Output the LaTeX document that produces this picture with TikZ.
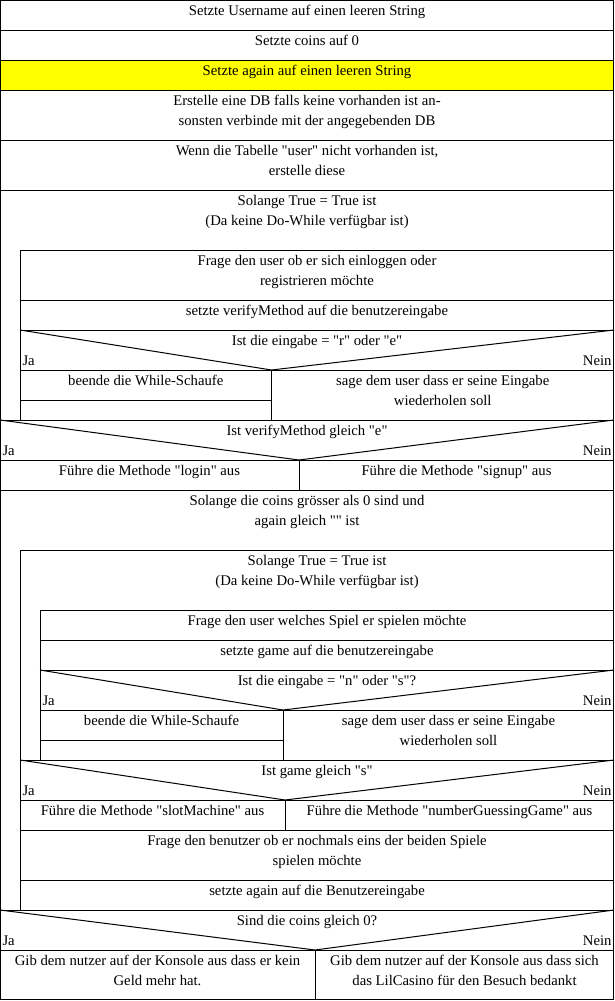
\documentclass[tikz,border=0pt]{standalone}
\usepackage{fontspec}
\setmainfont{Liberation Serif}
\usetikzlibrary{calc}
\definecolor{nsyellow}{RGB}{255,255,0}
\tikzset{
	nstext/.style={anchor=base, inner sep=0pt, align=center, font=\fontsize{14.7}{20}\selectfont},
	nsja/.style={anchor=base west, inner sep=0pt, font=\fontsize{14.7}{20}\selectfont},
	nsnein/.style={anchor=base east, inner sep=0pt, font=\fontsize{14.7}{20}\selectfont},
}
% left x, top y, split x, right x, bottom y
\def\nsif(#1,#2,#3,#4,#5){\draw (#1,#2) -- (#3,#5) -- (#4,#2);}
\def\qq{\textquotedbl}

\begin{document}
\begin{tikzpicture}[x=1pt, y=-1pt, line width=1pt]
		%%%%% START %%%%%
		\useasboundingbox (0,0) rectangle (614,1001);
		
		\fill[nsyellow] (0,60) rectangle (614,90);
		\draw (0.5,0.5) rectangle (613.5,999.5);
		
		\foreach \y in {30,60,90,140,190,420,460,490,910,950}
			\draw (0,\y) -- (614,\y);
		
		% zweizeilige Texte: base = letzte Zeile
		\node[nstext] (username) at (307,15) {Setzte Username auf einen leeren String};
		\node[nstext] (coins) at (307,45) {Setzte coins auf 0};
		\node[nstext] (again) at (307,75) {Setzte again auf einen leeren String};
		\node[nstext] (db) at (307,125) {Erstelle eine DB falls keine vorhanden ist an-\\sonsten verbinde mit der angegebenden DB};
		\node[nstext] (tabelle) at (307,175) {Wenn die Tabelle \qq user\qq{} nicht vorhanden ist,\\erstelle diese};
		
		% erste Schleife
		\node[nstext] (loopa) at (307,225) {Solange True = True ist\\(Da keine Do-While verfügbar ist)};
		\draw (20,420) -- (20,250) -- (614,250);
		\foreach \y in {300,330,370}
			\draw (20,\y) -- (614,\y);
		\node[nstext] (frageuser) at (317,285) {Frage den user ob er sich einloggen oder\\registrieren möchte};
		\node[nstext] (verify) at (317,315) {setzte verifyMethod auf die benutzereingabe};
		
		\nsif(20,330,271.5,614,370)
		\node[nstext] (ifre) at (317,345) {Ist die eingabe = \qq r\qq{} oder \qq e\qq};
		\node[nsja] (jaa) at (22,365) {Ja};
		\node[nsnein] (neina) at (612,365) {Nein};
		\draw (271.5,370) -- (271.5,420);
		\draw (20,400) -- (271.5,400);
		\node[nstext] (breaka) at (145.75,385) {beende die While-Schaufe};
		\node[nstext] (repeata) at (442.75,405) {sage dem user dass er seine Eingabe\\wiederholen soll};
		
		\nsif(0,420,299,614,460)
		\node[nstext] (ife) at (307,435) {Ist verifyMethod gleich \qq e\qq};
		\node[nsja] (jab) at (2,455) {Ja};
		\node[nsnein] (neinb) at (612,455) {Nein};
		\draw (299,460) -- (299,490);
		\node[nstext] (login) at (149.5,475) {Führe die Methode \qq login\qq{} aus};
		\node[nstext] (signup) at (456.5,475) {Führe die Methode \qq signup\qq{} aus};
		
		% zweite Schleife
		\node[nstext] (loopb) at (307,525) {Solange die coins grösser als 0 sind und\\again gleich \qq\qq{} ist};
		\draw (20,910) -- (20,550) -- (614,550);
		\node[nstext] (loopc) at (317,585) {Solange True = True ist\\(Da keine Do-While verfügbar ist)};
		\draw (40,760) -- (40,610) -- (614,610);
		\foreach \y in {640,670,710}
			\draw (40,\y) -- (614,\y);
		\node[nstext] (spiel) at (327,625) {Frage den user welches Spiel er spielen möchte};
		\node[nstext] (game) at (327,655) {setzte game auf die benutzereingabe};
		
		\nsif(40,670,283,614,710)
		\node[nstext] (ifns) at (327,685) {Ist die eingabe = \qq n\qq{} oder \qq s\qq?};
		\node[nsja] (jac) at (42,705) {Ja};
		\node[nsnein] (neinc) at (612,705) {Nein};
		\draw (283,710) -- (283,760);
		\draw (40,740) -- (283,740);
		\node[nstext] (breakb) at (161.5,725) {beende die While-Schaufe};
		\node[nstext] (repeatb) at (448.5,745) {sage dem user dass er seine Eingabe\\wiederholen soll};
		
		\foreach \y in {760,800,830,880}
			\draw (20,\y) -- (614,\y);
		\nsif(20,760,285,614,800)
		\node[nstext] (ifs) at (317,775) {Ist game gleich \qq s\qq};
		\node[nsja] (jad) at (22,795) {Ja};
		\node[nsnein] (neind) at (612,795) {Nein};
		\draw (285,800) -- (285,830);
		\node[nstext] (slot) at (152.5,815) {Führe die Methode \qq slotMachine\qq{} aus};
		\node[nstext] (guess) at (449.5,815) {Führe die Methode \qq numberGuessingGame\qq{} aus};
		\node[nstext] (nochmal) at (317,865) {Frage den benutzer ob er nochmals eins der beiden Spiele\\spielen möchte};
		\node[nstext] (setagain) at (317,895) {setzte again auf die Benutzereingabe};
		
		% Ende
		\nsif(0,910,315,614,950)
		\node[nstext] (ifnull) at (307,925) {Sind die coins gleich 0?};
		\node[nsja] (jae) at (2,945) {Ja};
		\node[nsnein] (neine) at (612,945) {Nein};
		\draw (315,950) -- (315,1000);
		\node[nstext] (nogeld) at (157.5,985) {Gib dem nutzer auf der Konsole aus dass er kein\\Geld mehr hat.};
		\node[nstext] (danke) at (464.5,985) {Gib dem nutzer auf der Konsole aus dass sich\\das LilCasino für den Besuch bedankt};
		
		%%%%% END %%%%%
	\end{tikzpicture}
\end{document}
